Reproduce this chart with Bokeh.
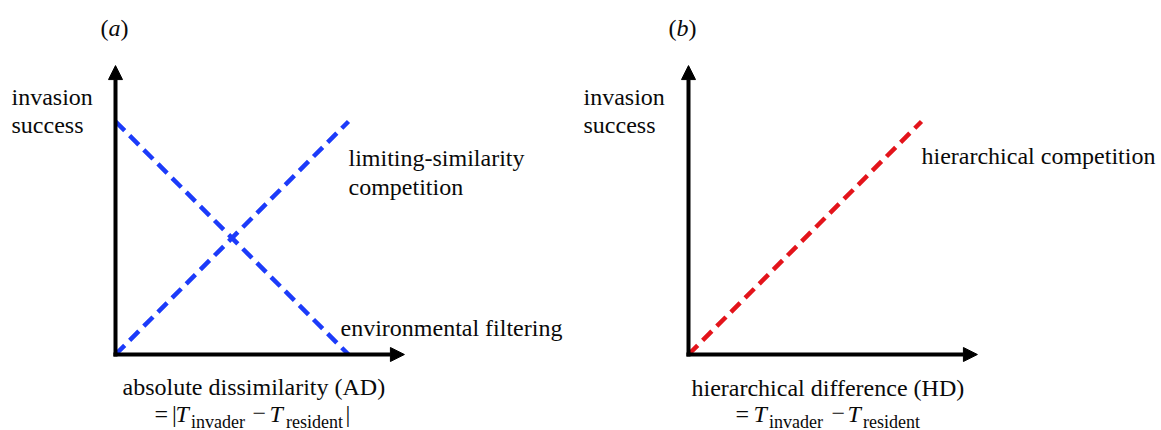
from bokeh.plotting import figure
from bokeh.layouts import row
from bokeh.models import Range1d, Arrow, NormalHead, Label
from bokeh.embed import file_html
from bokeh.resources import INLINE

# conceptual data (unit scale)
AD = [0, 1]
limiting_similarity = [0, 1]
environmental_filtering = [1, 0]
HD = [0, 1]
hierarchical_competition = [0, 1]
axis_len = 1.24

BLUE = "#1c3bfa"
RED = "#e3141b"
FONT = "'Liberation Serif', 'Times New Roman', serif"
H = 430
UNIT = 233.0
ORIGIN_Y = 354


def make_fig(width, origin_x):
    p = figure(width=width, height=H, output_backend="svg", toolbar_location=None,
               x_range=Range1d(-origin_x / UNIT, (width - origin_x) / UNIT),
               y_range=Range1d(-(H - ORIGIN_Y) / UNIT, ORIGIN_Y / UNIT),
               min_border=0, min_border_left=0, min_border_right=0,
               min_border_top=0, min_border_bottom=0)
    p.axis.visible = False
    p.grid.visible = False
    p.outline_line_color = None
    p.background_fill_color = "white"
    p.border_fill_color = "white"
    for (x1, y1) in [(axis_len, 0), (0, axis_len)]:
        p.add_layout(Arrow(end=NormalHead(size=14, fill_color="black", line_color="black", line_width=1),
                           x_start=-0.009 if x1 else 0, y_start=0 if x1 else -0.009,
                           x_end=x1, y_end=y1,
                           line_color="black", line_width=4))
    return p


def lab(p, text, page_x, page_y, left, size="24px", style="normal"):
    p.add_layout(Label(x=page_x - left, y=H - page_y, x_units="screen", y_units="screen",
                       text=text, text_font=FONT, text_font_size=size, text_font_style=style,
                       text_color="#0a0a0a", text_baseline="alphabetic", text_align="left"))


# panel (a)
LA = 0
pa = make_fig(578, 115)
pa.line(AD, limiting_similarity, line_color=BLUE, line_width=4.5, line_dash="13 7")
pa.line(AD, environmental_filtering, line_color=BLUE, line_width=4.5, line_dash="13 7")
lab(pa, "(", 100, 27, LA)
lab(pa, "a", 108, 27, LA, style="italic")
lab(pa, ")", 120, 27, LA)
lab(pa, "invasion", 11, 96, LA)
lab(pa, "success", 11, 124, LA)
lab(pa, "limiting-similarity", 348, 157, LA)
lab(pa, "competition", 348, 186, LA)
lab(pa, "environmental filtering", 340, 327, LA)
lab(pa, "absolute dissimilarity (AD)", 122, 386, LA)
lab(pa, "=", 154, 413, LA)
lab(pa, "|", 171.5, 413, LA)
lab(pa, "T", 175, 413, LA, style="italic")
lab(pa, "invader", 190.5, 421, LA, size="18px")
lab(pa, "\u2212", 252, 413, LA)
lab(pa, "T", 269, 413, LA, style="italic")
lab(pa, "resident", 285.5, 421, LA, size="18px")
lab(pa, "|", 345, 413, LA)

# panel (b)
LB = 578
pb = make_fig(580, 110)
pb.line(HD, hierarchical_competition, line_color=RED, line_width=4.5, line_dash="13 7")
lab(pb, "(", 668, 27, LB)
lab(pb, "b", 676, 27, LB, style="italic")
lab(pb, ")", 688, 27, LB)
lab(pb, "invasion", 583, 96, LB)
lab(pb, "success", 583, 124, LB)
lab(pb, "hierarchical competition", 921, 155, LB)
lab(pb, "hierarchical difference (HD)", 691, 387, LB)
lab(pb, "=", 735, 413, LB)
lab(pb, "T", 753, 413, LB, style="italic")
lab(pb, "invader", 768.5, 421, LB, size="18px")
lab(pb, "\u2212", 831, 413, LB)
lab(pb, "T", 847, 413, LB, style="italic")
lab(pb, "resident", 862.5, 421, LB, size="18px")

layout = row(pa, pb)
open("out.html", "w").write(file_html(layout, INLINE))
